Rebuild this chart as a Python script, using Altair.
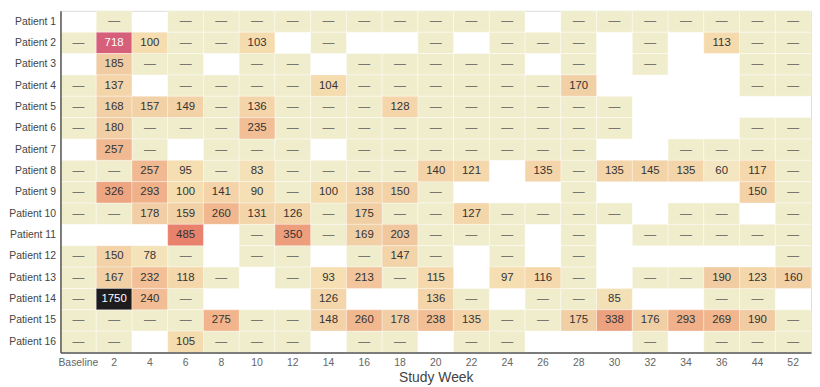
import altair as alt
import pandas as pd

weeks = ["Baseline", "2", "4", "6", "8", "10", "12", "14", "16", "18", "20",
         "22", "24", "26", "28", "30", "32", "34", "36", "44", "52"]
patients = [f"Patient {i}" for i in range(1, 17)]

D = "-"   # visit recorded, no value (shown as a dash)
N = None  # no visit (blank cell)

p1 = [N, D, N, D, D, D, D, D, D, D, D, D, D, N, D, D, D, D, D, D, D]
p2 = [D, 718, 100, D, D, 103, N, D, N, N, D, N, D, D, D, N, D, N, 113, D, D]
p3 = [N, 185, D, D, N, D, D, N, D, D, D, D, D, N, D, N, D, N, N, D, D]
p4 = [D, 137, N, D, D, D, D, 104, D, D, D, D, D, D, 170, N, N, N, N, D, D]
p5 = [D, 168, 157, 149, D, 136, D, D, D, 128, D, D, D, D, D, D, N, N, N, N, N]
p6 = [D, 180, D, D, D, 235, D, D, D, D, D, D, D, D, D, D, N, N, N, D, D]
p7 = [N, 257, D, N, D, D, D, N, D, D, D, D, D, D, D, N, N, D, D, D, D]
p8 = [D, D, 257, 95, D, 83, D, D, D, D, 140, 121, N, 135, D, 135, 145, 135, 60, 117, D]
p9 = [D, 326, 293, 100, 141, 90, D, 100, 138, 150, D, N, N, N, D, N, N, N, N, 150, D]
p10 = [D, D, 178, 159, 260, 131, 126, D, 175, D, D, 127, D, D, D, D, N, D, D, N, D]
p11 = [N, N, N, 485, N, D, 350, D, 169, 203, D, D, D, N, D, N, D, D, D, D, D]
p12 = [D, 150, 78, D, N, D, D, N, D, 147, D, N, D, N, D, N, N, N, N, N, D]
p13 = [D, 167, 232, 118, D, N, D, 93, 213, D, 115, N, 97, 116, D, N, D, D, 190, 123, 160]
p14 = [D, 1750, 240, D, N, N, N, 126, N, N, 136, D, N, D, D, 85, N, N, D, D, N]
p15 = [D, D, D, D, 275, D, D, 148, 260, 178, 238, 135, D, D, 175, 338, 176, 293, 269, 190, D]
p16 = [D, D, N, 105, D, D, D, N, D, D, N, D, D, N, N, N, D, N, D, D, D]

rows = [p1, p2, p3, p4, p5, p6, p7, p8, p9, p10, p11, p12, p13, p14, p15, p16]

records = []
for pat, row in zip(patients, rows):
    for wk, v in zip(weeks, row):
        if v is None:
            continue
        if v == D:
            records.append({"patient": pat, "week": wk, "value": None,
                            "label": "\u2014", "kind": "dash"})
        else:
            records.append({"patient": pat, "week": wk, "value": v,
                            "label": str(v), "kind": "val"})
df = pd.DataFrame(records)

FONT = "Liberation Sans"

x = alt.X("week:N", sort=weeks,
          scale=alt.Scale(domain=weeks, paddingInner=0, paddingOuter=0),
          axis=alt.Axis(title="Study Week", labelAngle=0, ticks=False, domain=True,
                        domainColor="#555555", domainWidth=1.5,
                        labelColor="#666", labelFontSize=10.5, labelPadding=5,
                        titleFontSize=14, titleFontWeight="normal", titleColor="#444",
                        titlePadding=3, labelFont=FONT, titleFont=FONT))
y = alt.Y("patient:N", sort=patients,
          scale=alt.Scale(domain=patients, paddingInner=0, paddingOuter=0),
          axis=alt.Axis(title=None, ticks=False, domain=True, domainColor="#555555",
                        domainWidth=1.5, labelColor="#444",
                        labelFontSize=10.5, labelPadding=5, minExtent=52, maxExtent=52,
                        labelFont=FONT))

base = alt.Chart(df).encode(x=x, y=y)

dash_rect = base.transform_filter("datum.kind == 'dash'").mark_rect(
    color="#EFEDCB", stroke="#FFFFFF", strokeOpacity=0.45, strokeWidth=1)

val_rect = base.transform_filter("datum.kind == 'val'").mark_rect(
    stroke="#FFFFFF", strokeOpacity=0.35, strokeWidth=1).encode(
    color=alt.Color("value:Q", legend=None,
                    scale=alt.Scale(
                        domain=[0, 60, 100, 135, 176, 240, 293, 338, 485, 718, 1750],
                        range=["#F2EECB", "#F3E6C0", "#F5DDB0", "#F4D4A9", "#F1CFA5",
                               "#F2BD95", "#F0B089", "#EDA27F", "#E8826C", "#D6607A",
                               "#1F1C1E"],
                        interpolate="rgb")))

val_text = base.transform_filter("datum.kind == 'val'").mark_text(
    fontSize=11.5, font=FONT).encode(
    text="label:N",
    color=alt.condition("datum.value > 600", alt.value("#FFFFFF"), alt.value("#333333")))

dash_text = base.transform_filter("datum.kind == 'dash'").mark_text(
    fontSize=12, font=FONT, color="#77776F").encode(text="label:N")

chart = alt.layer(dash_rect, val_rect, val_text, dash_text).properties(
    width=758, height=345, padding={"left": 0, "top": 0, "right": 0, "bottom": 0}
).configure_view(stroke="#555555", strokeWidth=1.5).configure(font=FONT)

chart.save("out.html", embed_options={"renderer": "svg", "actions": False})
